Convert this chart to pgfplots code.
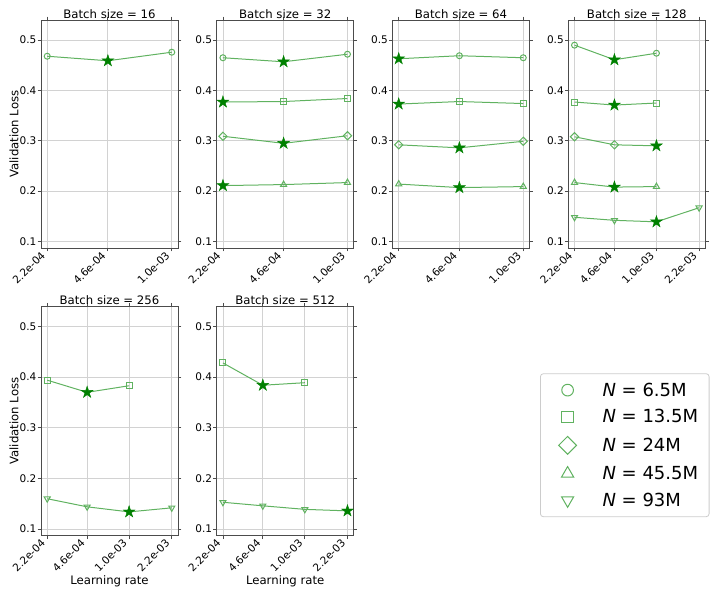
\documentclass[border=0pt]{standalone}
\usepackage{fontspec}
\setmainfont{DejaVu Sans}
\usepackage{pgfplots}
\pgfplotsset{compat=1.18}

\definecolor{lgreen}{RGB}{96,178,96}
\definecolor{sgreen}{RGB}{0,128,0}

% filled five-pointed star, like matplotlib's '*'
\pgfdeclareplotmark{fstar}{%
  \pgfpathmoveto{\pgfpointpolar{90}{\pgfplotmarksize}}%
  \pgfpathlineto{\pgfpointpolar{126}{0.382\pgfplotmarksize}}%
  \pgfpathlineto{\pgfpointpolar{162}{\pgfplotmarksize}}%
  \pgfpathlineto{\pgfpointpolar{198}{0.382\pgfplotmarksize}}%
  \pgfpathlineto{\pgfpointpolar{234}{\pgfplotmarksize}}%
  \pgfpathlineto{\pgfpointpolar{270}{0.382\pgfplotmarksize}}%
  \pgfpathlineto{\pgfpointpolar{306}{\pgfplotmarksize}}%
  \pgfpathlineto{\pgfpointpolar{342}{0.382\pgfplotmarksize}}%
  \pgfpathlineto{\pgfpointpolar{18}{\pgfplotmarksize}}%
  \pgfpathlineto{\pgfpointpolar{54}{0.382\pgfplotmarksize}}%
  \pgfpathclose
  \pgfusepathqfillstroke}

\pgfplotsset{
  bsaxis/.style={
    scale only axis, width=137pt, height=228pt, anchor=south west,
    xminorticks=false,
    ymin=0.087, ymax=0.540,
    ytick={0.1,0.2,0.3,0.4,0.5}, yticklabels={0.1,0.2,0.3,0.4,0.5},
    grid=major, grid style={gray!35, line width=0.8pt},
    axis line style={black!70, line width=0.8pt},
    tick align=outside, major tick length=3.4pt,
    tick style={black!70, line width=0.8pt},
    tick label style={font=\fontsize{10.5}{12}\selectfont},
    yticklabel style={inner sep=0pt, xshift=-1pt},
    xticklabel style={xshift=-7pt, yshift=0.8pt, rotate=45, anchor=north east, inner sep=0pt},
    every axis title/.style={at={(0.5,1)}, anchor=base, yshift=1.8pt,
      font=\fontsize{11.7}{14}\selectfont},
    label style={font=\fontsize{11.7}{14}\selectfont},
    ylabel style={at={(axis description cs:-0.197,0.5)}, anchor=center},
    xlabel style={at={(axis description cs:0.5,-0.212)}, anchor=base},
    clip=false,
  },
  lrthree/.style={xmin=2.0393e-4, xmax=1.0788e-3,
    xtick={2.2e-4,4.6e-4,1e-3}, xticklabels={2.2e-04,4.6e-04,1.0e-03}},
  lrfour/.style={xmin=1.9608e-4, xmax=2.4684e-3,
    xtick={2.2e-4,4.6e-4,1e-3,2.2e-3}, xticklabels={2.2e-04,4.6e-04,1.0e-03,2.2e-03}},
  serline/.style={color=lgreen, line width=1pt, mark options={solid}},
  mkA/.style={serline, mark=o, mark size=3pt},
  mkB/.style={serline, mark=square, mark size=3pt},
  mkC/.style={serline, mark=square, mark size=2.9pt, mark options={rotate=45}},
  mkD/.style={serline, mark=triangle, mark size=3.5pt},
  mkE/.style={serline, mark=triangle, mark size=3.5pt, mark options={rotate=180}},
  bestpt/.style={only marks, mark=fstar, mark size=6.2pt, color=sgreen,
    mark options={fill=sgreen, line width=0.4pt}},
}

\begin{document}
\begin{tikzpicture}
\path[use as bounding box] (0pt,0pt) rectangle (714pt,595pt);

% ---- batch size 16
\begin{semilogxaxis}[bsaxis, lrthree, at={(41pt,347pt)}, title={Batch size = 16}, ylabel={Validation Loss}]
\addplot[mkA, mark indices={1,3}] coordinates {(2.2e-4,0.468) (4.6e-4,0.459) (1e-3,0.476)};
\addplot[bestpt] coordinates {(4.6e-4,0.459)};
\end{semilogxaxis}

% ---- batch size 32
\begin{semilogxaxis}[bsaxis, lrthree, at={(216.7pt,347pt)}, title={Batch size = 32}]
\addplot[mkA, mark indices={1,3}] coordinates {(2.2e-4,0.465) (4.6e-4,0.457) (1e-3,0.472)};
\addplot[mkB, mark indices={2,3}] coordinates {(2.2e-4,0.377) (4.6e-4,0.378) (1e-3,0.384)};
\addplot[mkC, mark indices={1,3}] coordinates {(2.2e-4,0.309) (4.6e-4,0.295) (1e-3,0.310)};
\addplot[mkD, mark indices={2,3}] coordinates {(2.2e-4,0.211) (4.6e-4,0.213) (1e-3,0.217)};
\addplot[bestpt] coordinates {(4.6e-4,0.457) (2.2e-4,0.377) (4.6e-4,0.295) (2.2e-4,0.211)};
\end{semilogxaxis}

% ---- batch size 64
\begin{semilogxaxis}[bsaxis, lrthree, at={(392.5pt,347pt)}, title={Batch size = 64}]
\addplot[mkA, mark indices={2,3}] coordinates {(2.2e-4,0.463) (4.6e-4,0.469) (1e-3,0.465)};
\addplot[mkB, mark indices={2,3}] coordinates {(2.2e-4,0.373) (4.6e-4,0.378) (1e-3,0.374)};
\addplot[mkC, mark indices={1,3}] coordinates {(2.2e-4,0.292) (4.6e-4,0.286) (1e-3,0.299)};
\addplot[mkD, mark indices={1,3}] coordinates {(2.2e-4,0.214) (4.6e-4,0.207) (1e-3,0.209)};
\addplot[bestpt] coordinates {(2.2e-4,0.463) (2.2e-4,0.373) (4.6e-4,0.286) (4.6e-4,0.207)};
\end{semilogxaxis}

% ---- batch size 128
\begin{semilogxaxis}[bsaxis, lrfour, at={(568.3pt,347pt)}, title={Batch size = 128}]
\addplot[mkA, mark indices={1,3}] coordinates {(2.2e-4,0.490) (4.6e-4,0.461) (1e-3,0.474)};
\addplot[mkB, mark indices={1,3}] coordinates {(2.2e-4,0.377) (4.6e-4,0.371) (1e-3,0.375)};
\addplot[mkC, mark indices={1,2}] coordinates {(2.2e-4,0.308) (4.6e-4,0.292) (1e-3,0.290)};
\addplot[mkD, mark indices={1,3}] coordinates {(2.2e-4,0.217) (4.6e-4,0.208) (1e-3,0.209)};
\addplot[mkE, mark indices={1,2,4}] coordinates {(2.2e-4,0.148) (4.6e-4,0.142) (1e-3,0.139) (2.2e-3,0.167)};
\addplot[bestpt] coordinates {(4.6e-4,0.461) (4.6e-4,0.371) (1e-3,0.290) (4.6e-4,0.208) (1e-3,0.139)};
\end{semilogxaxis}

% ---- batch size 256
\begin{semilogxaxis}[bsaxis, lrfour, height=229.5pt, at={(41pt,59.3pt)}, title={Batch size = 256},
  ylabel={Validation Loss}, xlabel={Learning rate}]
\addplot[mkB, mark indices={1,3}] coordinates {(2.2e-4,0.394) (4.6e-4,0.370) (1e-3,0.383)};
\addplot[mkE, mark indices={1,2,4}] coordinates {(2.2e-4,0.160) (4.6e-4,0.144) (1e-3,0.134) (2.2e-3,0.142)};
\addplot[bestpt] coordinates {(4.6e-4,0.370) (1e-3,0.134)};
\end{semilogxaxis}

% ---- batch size 512
\begin{semilogxaxis}[bsaxis, lrfour, height=229.5pt, at={(216.7pt,59.3pt)}, title={Batch size = 512},
  xlabel={Learning rate}]
\addplot[mkB, mark indices={1,3}] coordinates {(2.2e-4,0.428) (4.6e-4,0.384) (1e-3,0.389)};
\addplot[mkE, mark indices={1,2,3}] coordinates {(2.2e-4,0.153) (4.6e-4,0.146) (1e-3,0.139) (2.2e-3,0.136)};
\addplot[bestpt] coordinates {(4.6e-4,0.384) (2.2e-3,0.136)};
\end{semilogxaxis}

% ---- legend
\begin{axis}[at={(0pt,0pt)}, anchor=south west, scale only axis, width=714pt, height=595pt,
  hide axis, xmin=0, xmax=1, ymin=0, ymax=1,
  legend cell align=left,
  legend image code/.code={\path (0pt,0pt); \draw[#1] plot coordinates {(17.7pt,0pt)};},
  legend style={at={(0.7563,0.3726)}, anchor=north west, draw=black!20, rounded corners=3pt,
    line width=0.8pt, inner xsep=9pt, inner ysep=9pt, row sep=12pt, column sep=26pt,
    font=\fontsize{18}{20}\selectfont, nodes={inner sep=0pt}}]
\addlegendimage{serline, mark=o, mark size=5.85pt}
\addlegendentry{{\itshape N} = 6.5M}
\addlegendimage{serline, mark=square, mark size=5.85pt}
\addlegendentry{{\itshape N} = 13.5M\hspace*{2pt}}
\addlegendimage{serline, mark=square, mark size=6.3pt, mark options={rotate=45}}
\addlegendentry{{\itshape N} = 24M}
\addlegendimage{serline, mark=triangle, mark size=7pt}
\addlegendentry{{\itshape N} = 45.5M}
\addlegendimage{serline, mark=triangle, mark size=7pt, mark options={rotate=180}}
\addlegendentry{{\itshape N} = 93M}
\end{axis}
\end{tikzpicture}
\end{document}
